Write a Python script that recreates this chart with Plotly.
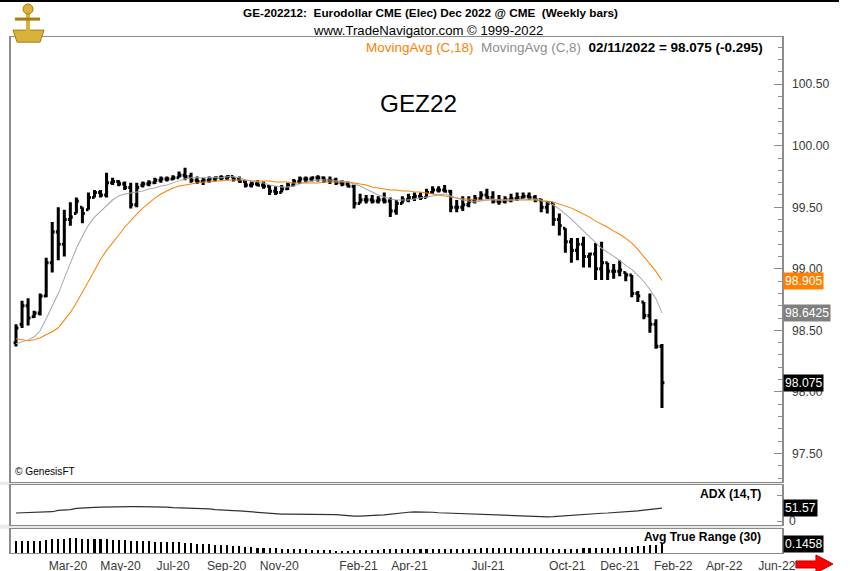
import plotly.graph_objects as go
import pandas as pd

# The page is captured slightly larger than 850x571 and shrunk to that size, so the figure
# is drawn at 864x577 and every position is given as a fraction of the 850x571 reference.
RW, RH = 850, 571
W, H = 864, 577
S = 1.013
def px(x): return x / RW
def py(y): return 1 - y / RH
def fs(v): return v * S

# ---------------- data ----------------
dates = pd.date_range("2020-01-24", periods=108, freq="W-FRI")

opens = [98.40, 98.55, 98.70, 98.61, 98.64, 98.78, 99.05, 99.30, 99.20, 99.40,
         99.45, 99.50, 99.48, 99.58, 99.62, 99.60, 99.70, 99.71, 99.69, 99.66,
         99.52, 99.68, 99.69, 99.70, 99.72, 99.73, 99.73, 99.74, 99.76, 99.75,
         99.72, 99.71, 99.72, 99.73, 99.74, 99.74, 99.75, 99.73, 99.71, 99.68,
         99.69, 99.68, 99.67, 99.63, 99.62, 99.65, 99.68, 99.71, 99.73, 99.73,
         99.74, 99.74, 99.72, 99.72, 99.70, 99.69, 99.67, 99.53, 99.56, 99.56,
         99.55, 99.56, 99.55, 99.47, 99.53, 99.56, 99.58, 99.59, 99.58, 99.62,
         99.64, 99.64, 99.63, 99.50, 99.50, 99.52, 99.55, 99.57, 99.60, 99.58,
         99.55, 99.55, 99.56, 99.57, 99.58, 99.59, 99.58, 99.56, 99.50, 99.53,
         99.40, 99.33, 99.22, 99.15, 99.20, 99.10, 99.12, 99.00, 99.05, 98.98,
         98.98, 98.97, 98.95, 98.80, 98.73, 98.62, 98.55, 98.37]
highs = [98.55, 98.74, 98.76, 98.66, 98.80, 99.09, 99.38, 99.50, 99.48, 99.54,
         99.58, 99.50, 99.62, 99.64, 99.64, 99.78, 99.74, 99.72, 99.71, 99.70,
         99.70, 99.71, 99.72, 99.74, 99.75, 99.75, 99.76, 99.79, 99.82, 99.78,
         99.75, 99.74, 99.75, 99.75, 99.76, 99.76, 99.75, 99.75, 99.72, 99.71,
         99.72, 99.71, 99.68, 99.67, 99.68, 99.70, 99.73, 99.75, 99.75, 99.75,
         99.76, 99.75, 99.75, 99.74, 99.72, 99.71, 99.68, 99.61, 99.60, 99.60,
         99.59, 99.62, 99.58, 99.56, 99.59, 99.61, 99.62, 99.62, 99.65, 99.67,
         99.67, 99.68, 99.64, 99.56, 99.59, 99.59, 99.60, 99.63, 99.65, 99.63,
         99.60, 99.59, 99.61, 99.62, 99.62, 99.62, 99.60, 99.57, 99.55, 99.53,
         99.45, 99.33, 99.25, 99.25, 99.26, 99.13, 99.21, 99.22, 99.05, 99.04,
         99.07, 98.97, 98.95, 98.82, 98.73, 98.80, 98.59, 98.39]
lows = [98.37, 98.52, 98.54, 98.60, 98.62, 98.77, 98.97, 99.07, 99.10, 99.35,
        99.45, 99.37, 99.48, 99.58, 99.58, 99.58, 99.68, 99.67, 99.64, 99.49,
        99.50, 99.66, 99.67, 99.69, 99.70, 99.71, 99.72, 99.74, 99.72, 99.70,
        99.69, 99.68, 99.70, 99.71, 99.72, 99.72, 99.71, 99.70, 99.66, 99.66,
        99.67, 99.65, 99.60, 99.60, 99.62, 99.64, 99.67, 99.69, 99.70, 99.71,
        99.71, 99.70, 99.69, 99.68, 99.67, 99.66, 99.49, 99.53, 99.53, 99.53,
        99.53, 99.53, 99.42, 99.44, 99.53, 99.54, 99.55, 99.56, 99.58, 99.61,
        99.62, 99.62, 99.46, 99.46, 99.47, 99.50, 99.53, 99.56, 99.57, 99.53,
        99.52, 99.53, 99.54, 99.55, 99.57, 99.56, 99.54, 99.46, 99.45, 99.35,
        99.27, 99.13, 99.05, 99.07, 99.01, 99.01, 98.91, 98.91, 98.91, 98.92,
        98.94, 98.90, 98.77, 98.73, 98.59, 98.48, 98.35, 97.87]
closes = [98.52, 98.70, 98.60, 98.64, 98.78, 99.05, 99.30, 99.20, 99.40, 99.42,
          99.55, 99.45, 99.58, 99.62, 99.60, 99.70, 99.71, 99.69, 99.66, 99.52,
          99.66, 99.69, 99.70, 99.72, 99.73, 99.73, 99.74, 99.76, 99.75, 99.72,
          99.71, 99.72, 99.73, 99.74, 99.74, 99.75, 99.73, 99.71, 99.68, 99.69,
          99.68, 99.67, 99.63, 99.62, 99.65, 99.68, 99.71, 99.73, 99.73, 99.74,
          99.74, 99.72, 99.72, 99.70, 99.69, 99.67, 99.53, 99.56, 99.56, 99.55,
          99.56, 99.55, 99.47, 99.53, 99.56, 99.58, 99.59, 99.58, 99.62, 99.64,
          99.64, 99.63, 99.50, 99.50, 99.52, 99.55, 99.57, 99.60, 99.58, 99.55,
          99.55, 99.56, 99.57, 99.58, 99.59, 99.58, 99.56, 99.50, 99.53, 99.40,
          99.35, 99.22, 99.15, 99.20, 99.10, 99.12, 99.00, 99.05, 98.98, 98.98,
          98.99, 98.95, 98.80, 98.78, 98.62, 98.55, 98.37, 98.075]

ma18 = [98.431, 98.423, 98.415, 98.423, 98.440, 98.464, 98.489, 98.521, 98.578, 98.644,
        98.725, 98.807, 98.897, 98.987, 99.077, 99.150, 99.208, 99.273, 99.338, 99.395,
        99.444, 99.493, 99.534, 99.575, 99.608, 99.632, 99.657, 99.673, 99.681, 99.690,
        99.698, 99.706, 99.706, 99.714, 99.714, 99.722, 99.722, 99.722, 99.722, 99.714,
        99.714, 99.714, 99.714, 99.706, 99.706, 99.706, 99.698, 99.698, 99.698, 99.698,
        99.698, 99.706, 99.706, 99.706, 99.706, 99.706, 99.698, 99.690, 99.681, 99.665,
        99.657, 99.649, 99.641, 99.641, 99.632, 99.632, 99.624, 99.624, 99.616, 99.608,
        99.600, 99.592, 99.583, 99.575, 99.567, 99.567, 99.559, 99.559, 99.559, 99.559,
        99.559, 99.559, 99.559, 99.559, 99.559, 99.559, 99.559, 99.551, 99.551, 99.542,
        99.526, 99.510, 99.493, 99.469, 99.444, 99.420, 99.387, 99.363, 99.338, 99.306,
        99.281, 99.248, 99.208, 99.158, 99.101, 99.036, 98.979, 98.905]
ma8 = [98.391, 98.407, 98.423, 98.448, 98.497, 98.595, 98.701, 98.799, 98.922, 99.052,
       99.167, 99.265, 99.355, 99.420, 99.469, 99.518, 99.559, 99.592, 99.608, 99.616,
       99.624, 99.632, 99.649, 99.657, 99.673, 99.681, 99.698, 99.714, 99.730, 99.739,
       99.739, 99.739, 99.739, 99.739, 99.739, 99.747, 99.747, 99.739, 99.722, 99.714,
       99.706, 99.698, 99.681, 99.673, 99.665, 99.665, 99.673, 99.690, 99.706, 99.714,
       99.722, 99.722, 99.722, 99.714, 99.714, 99.706, 99.690, 99.673, 99.649, 99.624,
       99.600, 99.583, 99.567, 99.559, 99.559, 99.559, 99.567, 99.575, 99.583, 99.592,
       99.600, 99.608, 99.592, 99.575, 99.559, 99.551, 99.542, 99.551, 99.559, 99.567,
       99.559, 99.559, 99.559, 99.559, 99.567, 99.567, 99.567, 99.559, 99.542, 99.518,
       99.485, 99.444, 99.404, 99.355, 99.306, 99.257, 99.208, 99.167, 99.134, 99.101,
       99.069, 99.028, 98.995, 98.946, 98.897, 98.832, 98.758, 98.6425]

adx = [32, 32.5, 33, 33.5, 34, 36, 37, 42, 44, 45,
       50, 52, 53, 54, 55, 56, 56.5, 57, 57, 57,
       57, 57, 56.5, 56, 56, 55, 53, 52, 51.5, 51,
       50.5, 50, 48, 45, 43, 42, 41, 40, 38, 36,
       34, 32, 29, 28, 27.5, 27.5, 27.5, 27.5, 27, 27,
       27, 27, 26.5, 26, 24, 21, 20, 20, 22, 23,
       24, 25, 28, 30, 33, 35, 36, 36, 36, 35,
       33, 32, 31, 30, 30, 29, 28, 27, 25, 24,
       23, 22, 21, 21, 21, 20, 18, 17, 17, 18,
       20, 22, 24, 25, 26, 27, 29, 31, 32, 33,
       34, 35, 36, 40, 43, 46, 49, 51.57]

atr = [0.180, 0.182, 0.184, 0.185, 0.186, 0.200, 0.210, 0.215, 0.218, 0.228,
       0.230, 0.220, 0.215, 0.212, 0.210, 0.208, 0.200, 0.195, 0.192, 0.190,
       0.190, 0.188, 0.185, 0.175, 0.170, 0.168, 0.165, 0.162, 0.160, 0.150,
       0.145, 0.140, 0.135, 0.125, 0.120, 0.118, 0.115, 0.105, 0.100, 0.095,
       0.085, 0.080, 0.075, 0.070, 0.065, 0.062, 0.060, 0.058, 0.056, 0.052,
       0.045, 0.042, 0.040, 0.038, 0.038, 0.038, 0.042, 0.050, 0.052, 0.053,
       0.054, 0.055, 0.058, 0.060, 0.060, 0.060, 0.061, 0.062, 0.062, 0.061,
       0.060, 0.060, 0.062, 0.063, 0.064, 0.064, 0.065, 0.070, 0.072, 0.075,
       0.076, 0.077, 0.077, 0.078, 0.078, 0.078, 0.077, 0.075, 0.070, 0.065,
       0.062, 0.062, 0.064, 0.066, 0.070, 0.075, 0.078, 0.080, 0.082, 0.084,
       0.086, 0.095, 0.100, 0.105, 0.110, 0.120, 0.130, 0.1458]

month_ticks = ["2020-03-01", "2020-05-01", "2020-07-01", "2020-09-01", "2020-11-01",
               "2021-02-01", "2021-04-01", "2021-07-01", "2021-10-01", "2021-12-01",
               "2022-02-01", "2022-04-01", "2022-06-01"]
month_labels = ["Mar-20", "May-20", "Jul-20", "Sep-20", "Nov-20", "Feb-21", "Apr-21",
                "Jul-21", "Oct-21", "Dec-21", "Feb-22", "Apr-22", "Jun-22"]

last_close, last_change = 98.075, -0.295
last_ma18, last_ma8 = 98.905, 98.6425
last_adx, last_atr = 51.57, 0.1458

# ---------------- figure ----------------
ORANGE = "#FF8000"
GRAY_MA = "#A8A8A8"
AXIS = "#8C8C8C"
SANS = "Liberation Sans, Arial, sans-serif"

fig = go.Figure()

fig.add_trace(go.Scatter(x=dates, y=ma18, mode="lines", line=dict(color=ORANGE, width=fs(1)),
                         xaxis="x", yaxis="y", hoverinfo="skip"))
fig.add_trace(go.Scatter(x=dates, y=ma8, mode="lines", line=dict(color=GRAY_MA, width=fs(1)),
                         xaxis="x", yaxis="y", hoverinfo="skip"))
fig.add_trace(go.Ohlc(x=dates, open=opens, high=highs, low=lows, close=closes,
                      increasing=dict(line=dict(color="black", width=fs(3))),
                      decreasing=dict(line=dict(color="black", width=fs(3))),
                      tickwidth=0.4, xaxis="x", yaxis="y", hoverinfo="skip"))
fig.add_trace(go.Scatter(x=dates, y=adx, mode="lines", line=dict(color="#303030", width=fs(1.2)),
                         xaxis="x2", yaxis="y2", hoverinfo="skip"))
fig.add_trace(go.Bar(x=dates, y=atr, width=2.4 * 86400000, marker=dict(color="black", line=dict(width=0)),
                     xaxis="x3", yaxis="y3", hoverinfo="skip"))

xrange = ["2020-01-18 05:00", "2022-06-30 02:00"]
xdom = [px(11), px(781)]
common_x = dict(domain=xdom, range=xrange, type="date", showgrid=False, zeroline=False,
                showline=True, mirror=True, linecolor=AXIS, linewidth=1, ticks="")

fig.update_layout(
    width=W, height=H, margin=dict(l=0, r=0, t=0, b=0),
    paper_bgcolor="white", plot_bgcolor="white", showlegend=False, hovermode=False,
    bargap=0,
    xaxis=dict(common_x, anchor="y", showticklabels=False, rangeslider=dict(visible=False)),
    xaxis2=dict(common_x, anchor="y2", showticklabels=False),
    xaxis3=dict(common_x, anchor="y3", showticklabels=True, tickmode="array",
                tickvals=month_ticks, ticktext=month_labels, ticklabelshift=20,
                ticklabelstandoff=1,
                tickfont=dict(family=SANS, size=fs(12), color="#3a3a3a")),
    yaxis=dict(domain=[py(480), py(37)], range=[97.271, 100.882], anchor="x", side="right",
               tick0=97.5, dtick=0.5, tickformat=".2f", ticks="inside", ticklen=8,
               tickcolor=AXIS, tickwidth=1,
               minor=dict(dtick=0.1, tick0=97.5, ticks="inside", ticklen=4, tickcolor=AXIS),
               showline=True, mirror=True, linecolor=AXIS, linewidth=fs(1.5),
               showgrid=False, zeroline=False, ticklabelstandoff=6,
               tickfont=dict(family=SANS, size=fs(12), color="#3a3a3a")),
    yaxis2=dict(domain=[py(523), py(483)], range=[-14.6, 143.5], anchor="x2", side="right",
                tickmode="array", tickvals=[0, 100], ticktext=["0", ""], ticks="inside",
                ticklen=5, tickcolor=AXIS, showline=True, mirror=True, linecolor=AXIS,
                linewidth=fs(1.5), showgrid=False, zeroline=False, ticklabelstandoff=3,
                tickfont=dict(family=SANS, size=fs(12), color="#3a3a3a")),
    yaxis3=dict(domain=[py(551), py(527)], range=[0, 0.367], anchor="x3", side="right",
                showticklabels=False, ticks="", showline=True, mirror=True, linecolor=AXIS,
                linewidth=fs(1.5), showgrid=False, zeroline=False),
)

shapes = []
# light grey separators between panels
for y0, y1 in [(480, 483), (523, 527)]:
    shapes.append(dict(type="rect", xref="paper", yref="paper", x0=0, x1=px(781),
                       y0=py(y1), y1=py(y0), fillcolor="#E9E9E9", line=dict(width=0), layer="below"))
# top black rule
shapes.append(dict(type="line", xref="paper", yref="paper", x0=px(0), x1=px(838), y0=py(1), y1=py(1),
                   line=dict(color="black", width=fs(2))))
# simple gold emblem (logo stand-in)
GOLD, GOLD_D = "#D9B23A", "#A87E10"
shapes.append(dict(type="path", xref="paper", yref="paper",
                   path=("M " + " L ".join(f"{px(a):.5f},{py(b):.5f}" for a, b in
                                           [(13, 30), (44, 30), (40, 42), (17, 42)]) + " Z"),
                   fillcolor=GOLD, line=dict(color=GOLD_D, width=1)))
shapes.append(dict(type="line", xref="paper", yref="paper", x0=px(28), x1=px(28), y0=py(5), y1=py(31),
                   line=dict(color=GOLD, width=fs(4))))
shapes.append(dict(type="line", xref="paper", yref="paper", x0=px(15), x1=px(40), y0=py(19), y1=py(19),
                   line=dict(color=GOLD_D, width=fs(3))))
shapes.append(dict(type="circle", xref="paper", yref="paper", x0=px(23), x1=px(33), y0=py(14), y1=py(4),
                   fillcolor=GOLD, line=dict(color=GOLD_D, width=1)))
# red arrow (bottom right)
ax = [795, 815, 815, 832, 815, 815, 795]
ay = [559, 559, 553, 562, 571, 566, 566]
path = "M " + " L ".join(f"{px(a):.5f},{py(b):.5f}" for a, b in zip(ax, ay)) + " Z"
shapes.append(dict(type="path", xref="paper", yref="paper", path=path,
                   fillcolor="#FF0000", line=dict(color="#C00000", width=1)))
fig.update_layout(shapes=shapes)

def note(x, y, text, size, color="black", xanchor="center", yref="paper", **kw):
    yy = py(y) if yref == "paper" else y
    return dict(x=px(x), y=yy, xref="paper", yref=yref, xanchor=xanchor, yanchor="middle",
                text=text, showarrow=False, font=dict(family=SANS, size=fs(size), color=color), **kw)

ann = [
    note(430, 12, "<b>GE-202212:  Eurodollar CME (Elec) Dec 2022 @ CME  (Weekly bars)</b>", 11.6),
    note(427, 30, "www.TradeNavigator.com © 1999-2022", 13),
    note(764, 47, (f"<span style='color:{ORANGE}'>MovingAvg (C,18)</span>  "
                   f"<span style='color:#8E8E8E'>MovingAvg (C,8)</span>  "
                   f"<b>02/11/2022 = {last_close:.3f} ({last_change:.3f})</b>"), 13.3, xanchor="right"),
    note(418, 103, "GEZ22", 24),
    note(13, 470, "© GenesisFT", 10, xanchor="left"),
    note(762, 492, "<b>ADX (14,T)</b>", 12, xanchor="right"),
    note(762, 535, "<b>Avg True Range (30)</b>", 12, xanchor="right"),
]
for val, txt, bg in [(last_ma18, f"{last_ma18:.3f}", ORANGE),
                     (last_ma8, f"{last_ma8:.4f}", "#808080"),
                     (last_close, f"{last_close:.3f}", "black")]:
    ann.append(note(782, val, txt, 12, color="white", xanchor="left", yref="y",
                    bgcolor=bg, borderpad=1))
ann.append(note(782, last_adx, f"{last_adx:.2f}", 12, color="white", xanchor="left", yref="y2",
                bgcolor="black", borderpad=1))
ann.append(note(782, 542, f"{last_atr:.4f}", 12, color="white", xanchor="left",
                bgcolor="black", borderpad=1))
fig.update_layout(annotations=ann)

fig.write_html("out.html", config={"displayModeBar": False},
               post_script="document.body.style.margin='0px';")
